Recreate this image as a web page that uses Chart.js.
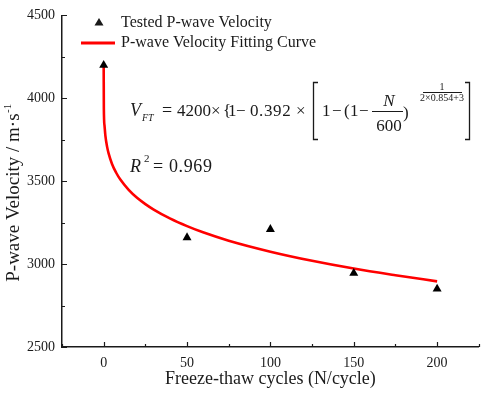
<!DOCTYPE html>
<html>
<head>
<meta charset="utf-8">
<script src="https://cdn.jsdelivr.net/npm/chart.js@4/dist/chart.umd.min.js"></script>
<style>
  html, body { margin: 0; padding: 0; background: #fff; }
  #wrap { position: relative; width: 484px; height: 393px; }
</style>
</head>
<body>
<div id="wrap"><canvas id="chart"></canvas></div>
<script>
// tested points
const cycles = [0, 50, 100, 150, 200];
const testedVelocity = [4200, 3160, 3210, 2945, 2850];

// fitting curve
const fitCycles = [0, 0.1, 0.5, 1, 2, 3, 5, 7.5, 10, 15, 20, 25, 30, 40, 50, 60, 75, 100, 125, 150, 175, 200];
const fitVelocity = [4200, 3941, 3835, 3777, 3710, 3666, 3604, 3551, 3510, 3448, 3400, 3362, 3329, 3274, 3229, 3190, 3141, 3075, 3020, 2973, 2933, 2896];

// axes
const xTicks = [0, 50, 100, 150, 200];
const xMinorTicks = [-25, 25, 75, 125, 175, 225];
const yTicks = [2500, 3000, 3500, 4000, 4500];
const yMinorTicks = [2750, 3250, 3750, 4250];

const seriesLabels = ['Tested P-wave Velocity', 'P-wave Velocity Fitting Curve'];
const xTitle = 'Freeze-thaw cycles (N/cycle)';
const yTitle = 'P-wave Velocity / m·s';

const SERIF = '"Liberation Serif", "Times New Roman", serif';
const INK = '#1a1a1a';

function txt(ctx, s, x, y, size, opts = {}) {
  ctx.font = (opts.italic ? 'italic ' : '') + size + 'px ' + SERIF;
  ctx.textAlign = opts.align || 'left';
  ctx.textBaseline = opts.baseline || 'alphabetic';
  ctx.letterSpacing = (opts.spacing || 0) + 'px';
  ctx.fillText(s, x, y);
  const w = ctx.measureText(s).width;
  ctx.letterSpacing = '0px';
  return w;
}

const decor = {
  id: 'decor',
  afterDraw(chart) {
    const { ctx, chartArea: ca, scales: { x, y } } = chart;
    ctx.save();
    ctx.fillStyle = INK;
    ctx.strokeStyle = INK;

    // inward tick marks
    ctx.lineWidth = 1.2;
    ctx.beginPath();
    yTicks.forEach(v => { const p = Math.round(y.getPixelForValue(v)) + 0.5; ctx.moveTo(ca.left, p); ctx.lineTo(ca.left + 5, p); });
    yMinorTicks.forEach(v => { const p = Math.round(y.getPixelForValue(v)) + 0.5; ctx.moveTo(ca.left, p); ctx.lineTo(ca.left + 3, p); });
    xTicks.forEach(v => { const p = Math.round(x.getPixelForValue(v)) + 0.5; ctx.moveTo(p, ca.bottom); ctx.lineTo(p, ca.bottom - 5); });
    xMinorTicks.forEach(v => { const p = Math.round(x.getPixelForValue(v)) + 0.5; ctx.moveTo(p, ca.bottom); ctx.lineTo(p, ca.bottom - 3); });
    ctx.stroke();

    // legend
    ctx.beginPath();
    ctx.moveTo(99, 23 - 5);
    ctx.lineTo(99 + 4.5, 23 + 2.6);
    ctx.lineTo(99 - 4.5, 23 + 2.6);
    ctx.closePath();
    ctx.fill();
    ctx.strokeStyle = '#ff0000';
    ctx.lineWidth = 3;
    ctx.beginPath();
    ctx.moveTo(81, 43); ctx.lineTo(115, 43);
    ctx.stroke();
    ctx.strokeStyle = INK;
    txt(ctx, seriesLabels[0], 121, 23, 16, { baseline: 'middle' });
    txt(ctx, seriesLabels[1], 121, 43, 16, { baseline: 'middle' });

    // fitting equation
    txt(ctx, 'V', 130, 116, 18, { italic: true });
    txt(ctx, 'FT', 142, 121, 10, { italic: true });
    txt(ctx, '=', 162, 116, 18);
    txt(ctx, '4200', 177, 116, 17);
    txt(ctx, '×', 211, 116, 17);
    txt(ctx, '{', 223, 116, 17);
    txt(ctx, '1', 228, 116, 17);
    txt(ctx, '−', 236, 116, 17);
    txt(ctx, '0.392', 250, 116, 17, { spacing: 0.6 });
    txt(ctx, '×', 296, 116, 17);
    txt(ctx, '1', 322, 116, 17);
    txt(ctx, '−', 332, 116, 17);
    txt(ctx, '(', 344, 116, 17);
    txt(ctx, '1', 350, 116, 17);
    txt(ctx, '−', 359, 116, 17);
    txt(ctx, 'N', 389, 106, 17, { italic: true, align: 'center' });
    txt(ctx, '600', 389, 131, 17, { align: 'center' });
    txt(ctx, ')', 403, 118, 17);
    txt(ctx, '1', 442, 90, 10, { align: 'center' });
    txt(ctx, '2×0.854+3', 442, 101, 10, { align: 'center' });
    ctx.lineWidth = 1;
    ctx.beginPath();
    ctx.moveTo(372, 111.5); ctx.lineTo(403, 111.5);
    ctx.moveTo(423, 92.5); ctx.lineTo(462, 92.5);
    ctx.stroke();
    ctx.lineWidth = 1.3;
    ctx.beginPath();
    ctx.moveTo(318, 82.5); ctx.lineTo(313.5, 82.5); ctx.lineTo(313.5, 139.5); ctx.lineTo(318, 139.5);
    ctx.moveTo(465, 82.5); ctx.lineTo(469.5, 82.5); ctx.lineTo(469.5, 139.5); ctx.lineTo(465, 139.5);
    ctx.stroke();

    // R squared
    txt(ctx, 'R', 130, 172, 18, { italic: true });
    txt(ctx, '2', 144, 162, 11);
    txt(ctx, '=', 153, 172, 18);
    txt(ctx, '0.969', 169, 172, 18, { spacing: 0.6 });

    // y axis title with superscript
    ctx.translate(14, 193);
    ctx.rotate(-Math.PI / 2);
    ctx.font = '19px ' + SERIF;
    const wMain = ctx.measureText(yTitle).width;
    ctx.font = '11px ' + SERIF;
    const wSup = ctx.measureText('-1').width;
    const start = -(wMain + wSup) / 2;
    txt(ctx, yTitle, start, 0, 19, { baseline: 'middle' });
    txt(ctx, '-1', start + wMain + 0.5, -6, 11, { baseline: 'middle' });
    ctx.restore();
  }
};

new Chart(document.getElementById('chart'), {
  type: 'scatter',
  data: {
    datasets: [
      {
        label: seriesLabels[0],
        data: cycles.map((c, i) => ({ x: c, y: testedVelocity[i] })),
        pointStyle: 'triangle',
        pointRadius: 5.2,
        pointBackgroundColor: '#000',
        pointBorderColor: '#000',
        pointBorderWidth: 0,
        showLine: false,
        order: 0,
      },
      {
        label: seriesLabels[1],
        data: fitCycles.map((c, i) => ({ x: c, y: fitVelocity[i] })),
        showLine: true,
        borderColor: '#ff0000',
        borderWidth: 2.6,
        pointRadius: 0,
        cubicInterpolationMode: 'monotone',
        fill: false,
        order: 1,
      },
    ],
  },
  options: {
    responsive: true,
    maintainAspectRatio: false,
    animation: false,
    events: [],
    layout: { padding: { top: 9, right: 3, left: 0, bottom: 0 } },
    plugins: { legend: { display: false }, tooltip: { enabled: false } },
    scales: {
      x: {
        type: 'linear',
        min: -25,
        max: 225,
        afterBuildTicks: s => { s.ticks = xTicks.map(v => ({ value: v })); },
        afterFit: s => { s.height = 46; },
        grid: { display: false, drawTicks: false, tickLength: 0 },
        border: { display: true, color: INK, width: 1.5 },
        ticks: { color: INK, padding: 8, maxRotation: 0, font: { family: SERIF, size: 14 }, callback: v => String(v) },
        title: { display: true, text: xTitle, color: INK, padding: { top: 0, bottom: 3 }, font: { family: SERIF, size: 18 } },
      },
      y: {
        min: 2500,
        max: 4500,
        afterBuildTicks: s => { s.ticks = yTicks.map(v => ({ value: v })); },
        afterFit: s => { s.width = 62; },
        grid: { display: false, drawTicks: false, tickLength: 0 },
        border: { display: true, color: INK, width: 1.5 },
        ticks: { color: INK, padding: 7, font: { family: SERIF, size: 14 }, callback: v => String(v) },
      },
    },
  },
  plugins: [decor],
});
</script>
</body>
</html>
